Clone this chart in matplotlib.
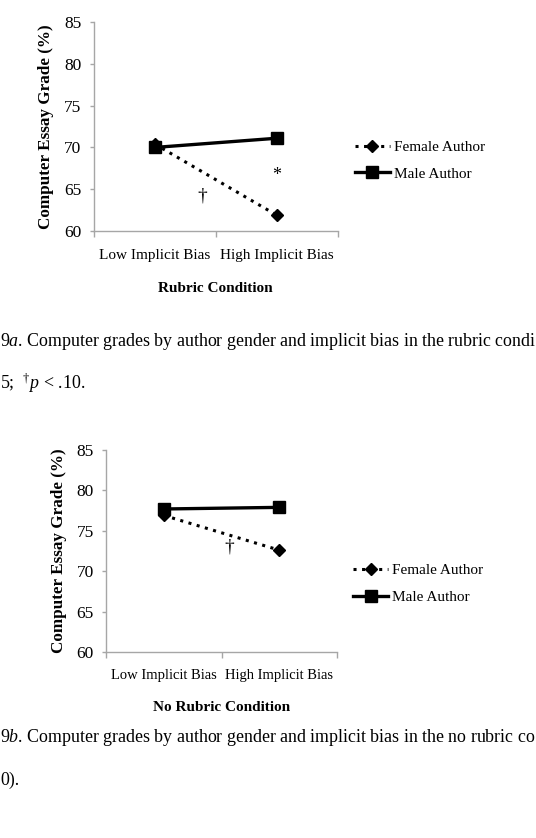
import numpy as np
import matplotlib
matplotlib.use('Agg')
import matplotlib.pyplot as plt

plt.rcParams['font.family'] = ['Liberation Serif', 'DejaVu Serif']
plt.rcParams['mathtext.fontset'] = 'custom'
plt.rcParams['mathtext.rm'] = 'Liberation Serif'
plt.rcParams['mathtext.it'] = 'Liberation Serif:italic'

# data
bias_levels = ['Low Implicit Bias', 'High Implicit Bias']
rubric_female = [70.4, 61.9]
rubric_male = [70.0, 71.1]
norubric_female = [76.9, 72.6]
norubric_male = [77.7, 77.9]
y_ticks = [60, 65, 70, 75, 80, 85]

grey = '#a6a6a6'


def draw_panel(ax, female, male, xlabel, pad, xsize):
    x = np.arange(len(bias_levels))
    ax.plot(x, female, color='black', linestyle=(0, (1, 1.8)), linewidth=2.2,
            marker='D', markersize=6.5, label='Female Author')
    ax.plot(x, male, color='black', linestyle='-', linewidth=2.4,
            marker='s', markersize=9, label='Male Author')
    ax.set_xlim(-0.5, 1.5)
    ax.set_ylim(60, 85)
    ax.set_yticks(y_ticks)
    ax.set_xticks(x)
    ax.set_xticklabels(bias_levels)
    ax.set_xticks([-0.5, 0.5, 1.5], minor=True)
    ax.tick_params(axis='x', which='major', length=0, pad=pad, labelsize=xsize)
    ax.tick_params(axis='x', which='minor', length=4, color=grey, width=1)
    ax.tick_params(axis='y', length=3, color=grey, width=1, pad=6, labelsize=12.5)
    for s in ['top', 'right']:
        ax.spines[s].set_visible(False)
    for s in ['left', 'bottom']:
        ax.spines[s].set_color(grey)
        ax.spines[s].set_linewidth(1)
    ax.set_xlabel(xlabel, fontweight='bold', fontsize=11, labelpad=14)
    ax.set_ylabel('Computer Essay Grade (%)', fontweight='bold', fontsize=12.3, labelpad=7)
    ax.legend(loc='center left', bbox_to_anchor=(1.07, 0.337), frameon=False,
              borderaxespad=0, borderpad=0, handlelength=2.3, handletextpad=0.25,
              labelspacing=0.85, fontsize=11)


fig = plt.figure(figsize=(5.36, 8.38), dpi=100)

ax1 = fig.add_axes([0.175, 0.7243, 0.455, 0.2494])
draw_panel(ax1, rubric_female, rubric_male, 'Rubric Condition', 13, 11)
ax1.text(0.393, 64.2, '†', ha='center', va='center', fontsize=14)
ax1.text(1.0, 66.6, '*', ha='center', va='center', fontsize=13)

ax2 = fig.add_axes([0.198, 0.222, 0.431, 0.241])
draw_panel(ax2, norubric_female, norubric_male, 'No Rubric Condition', 12, 10.5)
ax2.text(0.565, 73.0, '†', ha='center', va='center', fontsize=14)

# captions as they show on the cropped page
fig.text(0.0, 1 - 342 / 838,
         r'$\mathit{9a}$. Computer grades by author gender and implicit bias in the rubric condi',
         fontsize=12.9, va='center', ha='left')
fig.text(0.0, 1 - 383 / 838, r'5;  $^{\dagger}\mathit{p}$ < .10.',
         fontsize=12.9, va='center', ha='left')
fig.text(0.0, 1 - 737 / 838,
         r'$\mathit{9b}$. Computer grades by author gender and implicit bias in the no rubric co',
         fontsize=12.9, va='center', ha='left')
fig.text(0.0, 1 - 780 / 838, '0).', fontsize=12.9, va='center', ha='left')

plt.savefig('out.png', dpi=100)
